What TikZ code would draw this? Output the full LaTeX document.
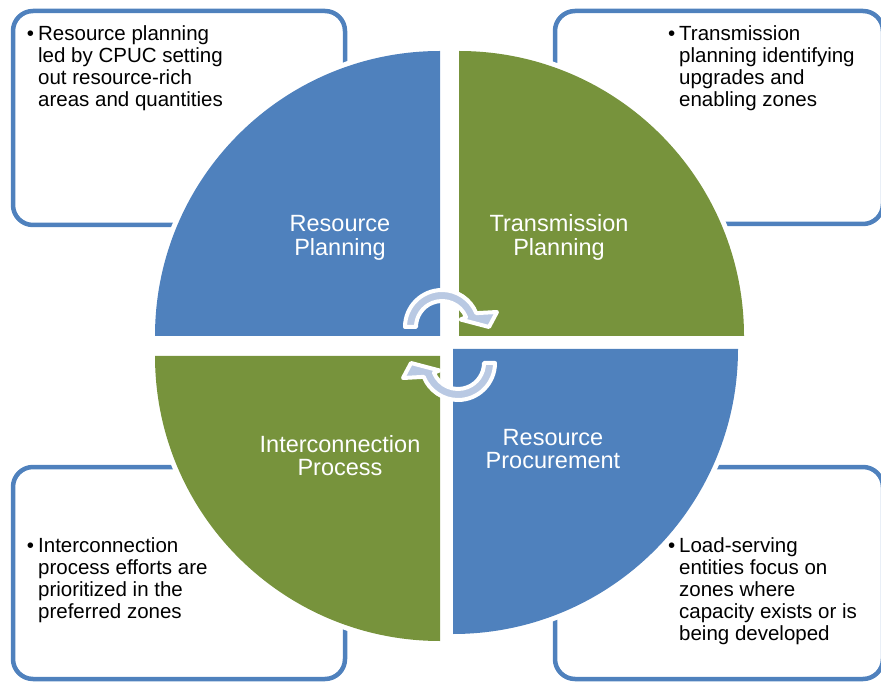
\documentclass[tikz,border=0pt]{standalone}
\usepackage{fontspec}
\setmainfont{Liberation Sans}
\usepackage{tikz}
\definecolor{cmblue}{RGB}{79,129,189}
\definecolor{cmgreen}{RGB}{119,147,60}
\definecolor{cmarrow}{RGB}{185,201,227}

\begin{document}
\begin{tikzpicture}[x=1pt, y=1pt,
    every node/.style={inner sep=0pt, outer sep=0pt},
    notebox/.style={draw=cmblue, line width=4.5pt, rounded corners=20pt},
    note/.style={anchor=base west, font=\fontsize{20.5}{22}\selectfont, text=black},
    quad/.style={anchor=base, font=\fontsize{23.5}{23}\selectfont, text=white},
    halo/.style={draw=white, line width=10pt},
    cyclearrow/.style={fill=cmarrow, draw=white, line width=4pt, line join=round}]
    \useasboundingbox (0,0) rectangle (881,681);

    % corner boxes
    \draw[notebox] (13,456) rectangle (345,670);
    \draw[notebox] (555,457) rectangle (883,670);
    \draw[notebox] (13,2) rectangle (345,214);
    \draw[notebox] (555,2) rectangle (883,214);

    \node[note] (rpnote) at (27,640.5) {\begin{tabular}[t]{@{}l@{\hspace{4pt}}l@{}}
        \textbullet & Resource planning\\
        & led by CPUC setting\\
        & out resource-rich\\
        & areas and quantities\end{tabular}};
    \node[note] (tpnote) at (668,640.5) {\begin{tabular}[t]{@{}l@{\hspace{4pt}}l@{}}
        \textbullet & Transmission\\
        & planning identifying\\
        & upgrades and\\
        & enabling zones\end{tabular}};
    \node[note] (ipnote) at (27,128.8) {\begin{tabular}[t]{@{}l@{\hspace{4pt}}l@{}}
        \textbullet & Interconnection\\
        & process efforts are\\
        & prioritized in the\\
        & preferred zones\end{tabular}};
    \node[note] (rcnote) at (668,128.8) {\begin{tabular}[t]{@{}l@{\hspace{4pt}}l@{}}
        \textbullet & Load-serving\\
        & entities focus on\\
        & zones where\\
        & capacity exists or is\\
        & being developed\end{tabular}};

    % white rims round the quarters
    \draw[halo] (440,345) ++(180:285) arc[start angle=180, end angle=90, radius=285];
    \draw[halo] (459,345) ++(90:285) arc[start angle=90, end angle=0, radius=285];
    \draw[halo] (440,325) ++(180:285) arc[start angle=180, end angle=270, radius=285];
    \draw[halo] (453,332) ++(0:285) arc[start angle=0, end angle=-90, radius=285];

    % quarters
    \fill[cmblue] (440,345) -- ++(180:285) arc[start angle=180, end angle=90, radius=285] -- cycle;
    \fill[cmgreen] (459,345) -- ++(90:285) arc[start angle=90, end angle=0, radius=285] -- cycle;
    \fill[cmgreen] (440,325) -- ++(180:285) arc[start angle=180, end angle=270, radius=285] -- cycle;
    \fill[cmblue] (453,332) -- ++(0:285) arc[start angle=0, end angle=-90, radius=285] -- cycle;

    \node[quad] (rplan) at (340,449) {\begin{tabular}[t]{@{}c@{}}Resource\\Planning\end{tabular}};
    \node[quad] (tplan) at (559,449) {\begin{tabular}[t]{@{}c@{}}Transmission\\Planning\end{tabular}};
    \node[quad] (iproc) at (340,228.7) {\begin{tabular}[t]{@{}c@{}}Interconnection\\Process\end{tabular}};
    \node[quad] (rproc) at (553,236) {\begin{tabular}[t]{@{}c@{}}Resource\\Procurement\end{tabular}};

    % circular arrows
    \begin{scope}[shift={(442,354)}]
        \path[cyclearrow] (180:37) arc[start angle=180, end angle=22, radius=37]
            -- (55,15) -- (47,0) -- (22:20) -- (22:26)
            arc[start angle=22, end angle=180, radius=26] -- cycle;
    \end{scope}
    \begin{scope}[shift={(458,318)}, rotate=180]
        \path[cyclearrow] (180:37) arc[start angle=180, end angle=22, radius=37]
            -- (55,15) -- (47,0) -- (22:20) -- (22:26)
            arc[start angle=22, end angle=180, radius=26] -- cycle;
    \end{scope}
\end{tikzpicture}
\end{document}
